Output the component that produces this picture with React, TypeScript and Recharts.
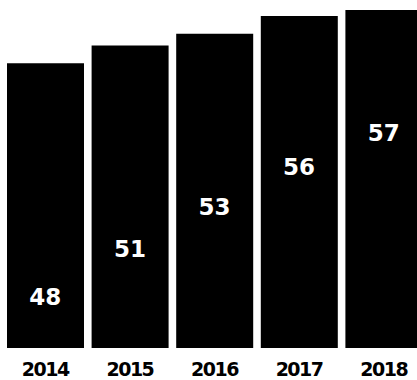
import { ComposedChart, Bar, Line, XAxis, YAxis, LabelList } from "recharts";

// years on the x axis
const years = ["2014", "2015", "2016", "2017", "2018"];
// bar values
const values = [48, 51, 53, 56, 57];
// where each value label sits, in value units (labels climb step by step)
const labelLevels = [8.6, 16.8, 23.9, 30.5, 36.3];

const chartData = years.map((year, i) => ({
  year,
  value: values[i],
  labelAt: labelLevels[i],
}));

const FONT = "'DejaVu Sans', sans-serif";

function ValueLabel(props: any) {
  const { x, y, value } = props;
  return (
    <text
      x={x}
      y={y}
      dy="0.36em"
      textAnchor="middle"
      fill="#ffffff"
      fontFamily={FONT}
      fontWeight={700}
      fontSize={23}
    >
      {value}
    </text>
  );
}

export default function App() {
  return (
    <div
      style={{
        position: "fixed",
        left: 0,
        top: 0,
        width: 417,
        height: 380,
        overflow: "hidden",
        background: "#ffffff",
      }}
    >
      <ComposedChart
        width={430}
        height={380}
        data={chartData}
        margin={{ top: 10, right: 4, left: 3, bottom: 0 }}
      >
        <XAxis
          dataKey="year"
          axisLine={false}
          tickLine={false}
          tickSize={8}
          tickMargin={7}
          height={32}
          interval={0}
          tick={{
            fill: "#000000",
            fontFamily: FONT,
            fontWeight: 700,
            fontSize: 19,
            letterSpacing: -1.5,
          }}
        />
        <YAxis hide domain={[0, 57]} />
        <Bar dataKey="value" fill="#000000" barSize={77} isAnimationActive={false} />
        <Line
          dataKey="labelAt"
          stroke="none"
          dot={false}
          activeDot={false}
          legendType="none"
          isAnimationActive={false}
        >
          <LabelList dataKey="value" content={ValueLabel} />
        </Line>
      </ComposedChart>
    </div>
  );
}
